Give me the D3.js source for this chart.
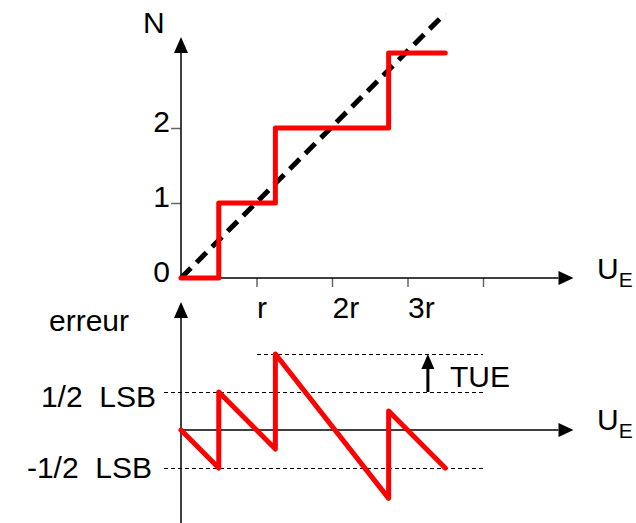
<!DOCTYPE html>
<html>
<head>
<meta charset="utf-8">
<script src="https://cdn.jsdelivr.net/npm/d3@7"></script>
<style>
  body { margin: 0; background: #fff; }
</style>
</head>
<body>
<div class="chart"></div>
<script>
// input axis (multiples of r)
const xTicks = [1, 2, 3, 4]
const xTickLabels = ['r', '2r', '3r', '']
// output code N
const nTicks = [0, 1, 2]
const nTickLabels = ['0', '1', '2']
// quantizer staircase
const stairU = [0, 0.5, 0.5, 1.25, 1.25, 2.75, 2.75, 3.5]
const stairN = [0, 0, 1, 1, 2, 2, 3, 3]
// ideal transfer line
const idealU = [0, 3.5]
const idealN = [0, 3.53]
// error curve (LSB)
const errU = [0, 0.5, 0.5, 1.25, 1.25, 2.75, 2.75, 3.5]
const errE = [0, -0.5, 0.5, -0.25, 1.0, -0.9, 0.25, -0.5]
// reference levels in the error plot
const levelValues = [0.5, -0.5, 1.0]
const levelStart = [-0.22, -0.22, 1]
const levelEnd = [4, 4, 4]
const tueU = 3.27

const RED = '#ff0000'
const FONT = '"Liberation Sans", Arial, sans-serif'
const FS = 30

const W = 636, H = 523
const svg = d3.select('.chart').append('svg')
  .attr('width', W)
  .attr('height', H)
  .attr('font-family', FONT)

const x = d3.scaleLinear().domain([0, 4]).range([181, 483])
const yN = d3.scaleLinear().domain([0, 3]).range([278, 53])
const yE = d3.scaleLinear().domain([-1, 1]).range([506, 354])

const arrowHead = (g, px, py, dir, len = 15, half = 7) => {
  let pts
  if (dir === 'up') pts = [[px, py - len], [px - half, py], [px + half, py]]
  else pts = [[px + len, py], [px, py - half], [px, py + half]]
  g.append('path')
    .attr('d', 'M' + pts.map(p => p.join(',')).join('L') + 'Z')
    .attr('fill', '#000')
}

const axisLine = (g, x1, y1, x2, y2) => {
  g.append('line')
    .attr('x1', x1).attr('y1', y1).attr('x2', x2).attr('y2', y2)
    .attr('stroke', '#000')
    .attr('stroke-width', 1.5)
}

const subLabel = (g, px, py) => {
  const t = g.append('text')
    .attr('x', px).attr('y', py)
    .attr('font-size', FS)
    .attr('fill', '#000')
  t.append('tspan').text('U')
  t.append('tspan').attr('dy', 8).attr('font-size', 21).text('E')
}

// ---------- top panel ----------
const upper = svg.append('g')

upper.append('g')
  .attr('transform', `translate(0,${yN(0)})`)
  .call(d3.axisBottom(x).tickValues(xTicks).tickSize(9).tickFormat((d, i) => xTickLabels[i]))
  .call(g => g.select('.domain').remove())
  .call(g => g.selectAll('.tick line').attr('stroke', '#666').attr('stroke-width', 1.5))
  .call(g => g.selectAll('.tick text')
    .attr('text-anchor', 'start')
    .attr('dy', null)
    .attr('y', 40)
    .attr('fill', '#000')
    .attr('font-size', FS)
    .attr('font-family', FONT))

upper.append('g')
  .attr('transform', `translate(${x(0)},0)`)
  .call(d3.axisLeft(yN).tickValues(nTicks).tickSize(10).tickPadding(1).tickFormat((d, i) => nTickLabels[i]))
  .call(g => g.select('.domain').remove())
  .call(g => g.selectAll('.tick line').attr('stroke', '#666').attr('stroke-width', 1.5))
  .call(g => g.selectAll('.tick').filter(d => d === 0).select('line').remove())
  .call(g => g.selectAll('.tick text')
    .attr('dy', 3)
    .attr('fill', '#000')
    .attr('font-size', FS)
    .attr('font-family', FONT))

axisLine(upper, x(0), yN(0), x(5), yN(0))
arrowHead(upper, x(5), yN(0), 'right')
axisLine(upper, x(0), yN(0), x(0), yN(3))
arrowHead(upper, x(0), yN(3), 'up', 16, 7)

upper.append('text')
  .attr('x', 143).attr('y', 33)
  .attr('font-size', FS)
  .text('N')
subLabel(upper, 597, yN(0) + 1)

upper.append('path')
  .datum(idealU.map((u, i) => [u, idealN[i]]))
  .attr('fill', 'none')
  .attr('stroke', '#000')
  .attr('stroke-width', 5)
  .attr('stroke-dasharray', '14,8')
  .attr('d', d3.line().x(d => x(d[0])).y(d => yN(d[1])))

upper.append('path')
  .datum(stairU.map((u, i) => [u, stairN[i]]))
  .attr('fill', 'none')
  .attr('stroke', RED)
  .attr('stroke-width', 5)
  .attr('stroke-linejoin', 'round')
  .attr('stroke-linecap', 'round')
  .attr('d', d3.line().x(d => x(d[0])).y(d => yN(d[1])))

// ---------- bottom panel ----------
const lower = svg.append('g')

levelValues.forEach((v, i) => {
  lower.append('line')
    .attr('x1', x(levelStart[i])).attr('x2', x(levelEnd[i]))
    .attr('y1', yE(v)).attr('y2', yE(v))
    .attr('stroke', '#000')
    .attr('stroke-width', 1)
    .attr('stroke-dasharray', '4,3')
    .attr('shape-rendering', 'crispEdges')
})

axisLine(lower, x(0), yE(0), x(5), yE(0))
arrowHead(lower, x(5), yE(0), 'right')
axisLine(lower, x(0), H, x(0), 318)
arrowHead(lower, x(0), 318, 'up', 16, 7)

lower.append('text')
  .attr('x', 49).attr('y', 331)
  .attr('font-size', FS)
  .text('erreur')
lower.append('text')
  .attr('x', 156).attr('y', yE(0.5) + 15)
  .attr('text-anchor', 'end')
  .attr('font-size', FS)
  .style('white-space', 'pre')
  .text('1/2  LSB')
lower.append('text')
  .attr('x', 152).attr('y', yE(-0.5) + 10)
  .attr('text-anchor', 'end')
  .attr('font-size', FS)
  .style('white-space', 'pre')
  .text('-1/2  LSB')
subLabel(lower, 597, yE(0))

// TUE arrow
lower.append('line')
  .attr('x1', x(tueU)).attr('x2', x(tueU))
  .attr('y1', yE(0.5)).attr('y2', yE(1.0) + 14)
  .attr('stroke', '#000')
  .attr('stroke-width', 3)
arrowHead(lower, x(tueU), yE(1.0) + 15, 'up', 15, 6.5)
lower.append('text')
  .attr('x', 450).attr('y', 387)
  .attr('font-size', FS)
  .text('TUE')

lower.append('path')
  .datum(errU.map((u, i) => [u, errE[i]]))
  .attr('fill', 'none')
  .attr('stroke', RED)
  .attr('stroke-width', 5)
  .attr('stroke-linejoin', 'round')
  .attr('stroke-linecap', 'round')
  .attr('d', d3.line().x(d => x(d[0])).y(d => yE(d[1])))
</script>
</body>
</html>
